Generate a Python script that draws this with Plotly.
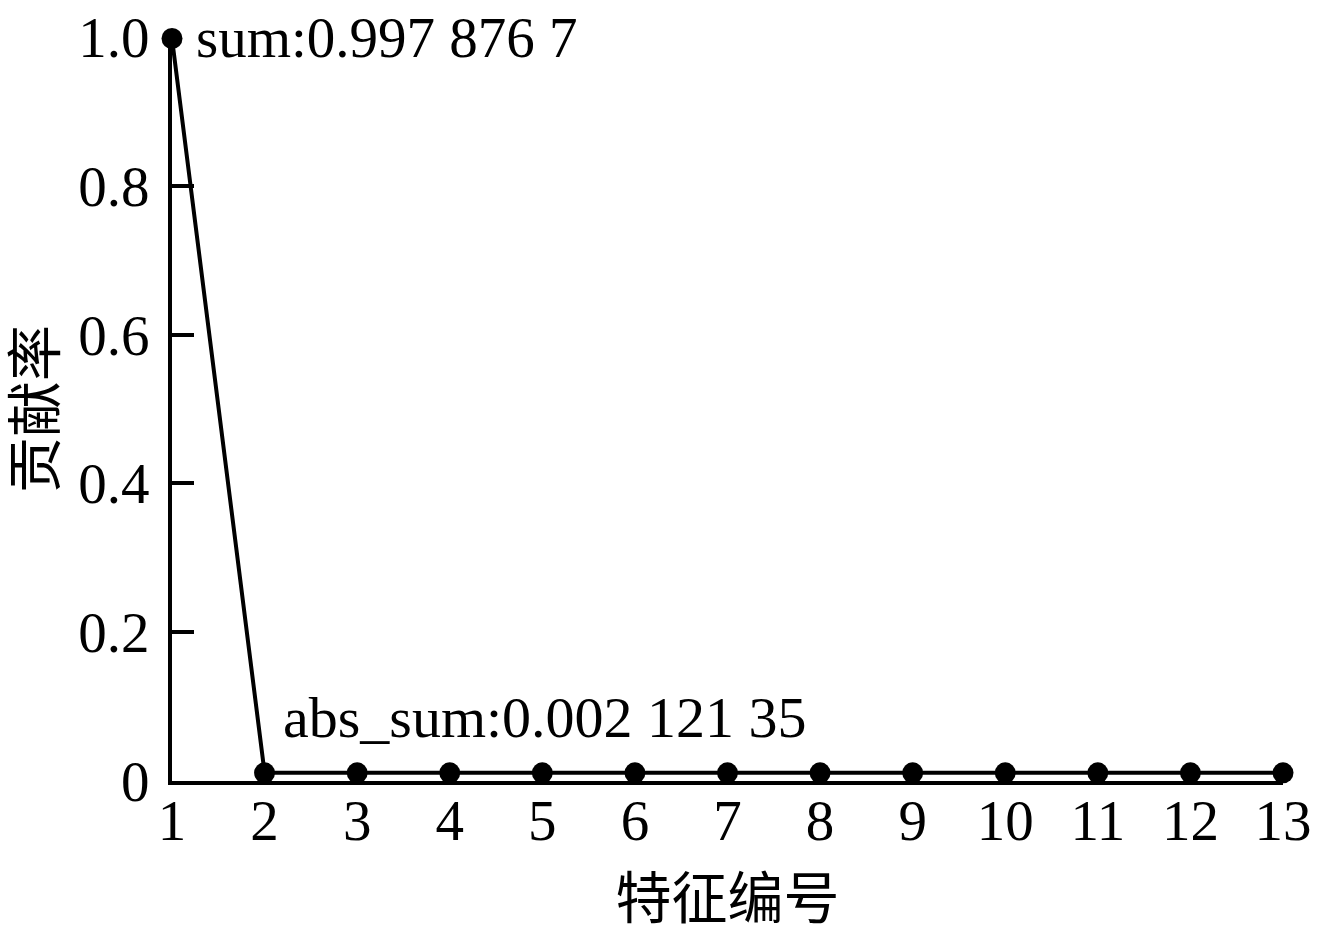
import plotly.graph_objects as go

# feature index vs contribution rate
feature_no = [1, 2, 3, 4, 5, 6, 7, 8, 9, 10, 11, 12, 13]
contribution = [0.998, 0.011, 0.011, 0.011, 0.011, 0.011, 0.011,
                0.011, 0.011, 0.011, 0.011, 0.011, 0.011]
y_ticks = [0, 0.2, 0.4, 0.6, 0.8, 1.0]
y_tick_text = ["0", "0.2", "0.4", "0.6", "0.8", "1.0"]
sum_label = "sum:0.997 876 7"
abs_sum_label = "abs_sum:0.002 121 35"

serif = "Liberation Serif, Times New Roman, Noto Sans CJK SC"
fsize = 57

fig = go.Figure()
fig.add_trace(go.Scatter(
    x=feature_no,
    y=contribution,
    mode="lines+markers",
    line=dict(color="black", width=4),
    marker=dict(color="black", size=21),
    cliponaxis=False,
    showlegend=False,
))

fig.add_annotation(x=1, y=1.0, xref="x", yref="y", text=sum_label,
                   showarrow=False, xanchor="left", yanchor="middle", xshift=22,
                   font=dict(family=serif, size=fsize, color="black"))
fig.add_annotation(x=2, y=0.085, xref="x", yref="y", text=abs_sum_label,
                   showarrow=False, xanchor="left", yanchor="middle", xshift=16,
                   font=dict(family=serif, size=58, color="black"))

fig.update_layout(
    width=1319, height=930,
    margin=dict(l=172, r=36, t=37, b=149),
    paper_bgcolor="white", plot_bgcolor="white",
    font=dict(family=serif, size=fsize, color="black"),
)
fig.update_xaxes(
    range=[1, 13], tickvals=feature_no, showgrid=False, zeroline=False,
    showline=True, linecolor="black", linewidth=4, ticks="",
    automargin=False, ticklabelstandoff=-13,
    tickfont=dict(family=serif, size=fsize),
    title=dict(text="特征编号", font=dict(family=serif, size=56), standoff=31),
)
fig.update_yaxes(
    range=[0, 1], tickvals=y_ticks, ticktext=y_tick_text, showgrid=False,
    zeroline=False, showline=True, linecolor="black", linewidth=4,
    ticks="inside", ticklen=22, tickwidth=4, tickcolor="black",
    automargin=False, ticklabelstandoff=7,
    tickfont=dict(family=serif, size=fsize),
    title=dict(text="贡献率", font=dict(family=serif, size=56), standoff=6),
)

# drop the default page margin so the figure sits at the window's corner
fig.write_html("out.html", config={"displayModeBar": False},
               post_script="document.body.style.margin='0';")
